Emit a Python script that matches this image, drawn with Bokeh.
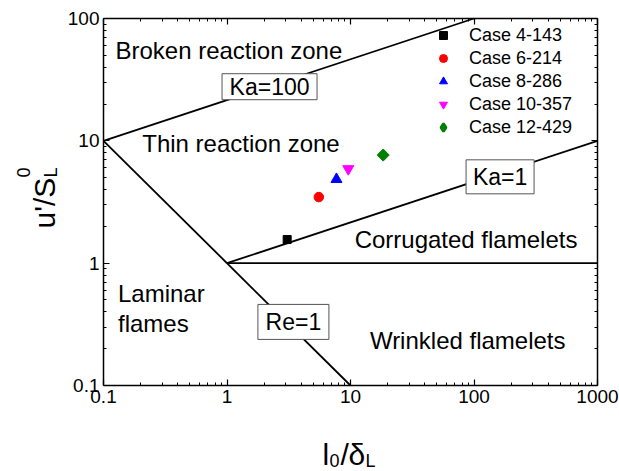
import math
from bokeh.plotting import figure
from bokeh.models import (LogAxis, FixedTicker, CustomJSTickFormatter, Legend,
                          LegendItem, Label, Range1d)
from bokeh.core.properties import value
from bokeh.embed import file_html
from bokeh.resources import INLINE

# ---------------- data ----------------
cases = ["Case 4-143", "Case 6-214", "Case 8-286", "Case 10-357", "Case 12-429"]
l_delta = [3.07, 5.54, 7.7, 9.6, 18.4]
u_sl = [1.56, 3.47, 4.85, 5.9, 7.65]
markers = ["square", "circle", "triangle", "inverted_triangle", "square"]
colors = ["#000000", "#ff0000", "#0000ff", "#ff00ff", "#008000"]

ka100_x = [0.1, 100]
ka100_y = [10, 100]
ka1_x = [1, 1000]
ka1_y = [1, 10]
re1_x = [0.1, 10]
re1_y = [10, 0.1]
flam_x = [1, 1000]
flam_y = [1, 1]

x_ticks = [0.1, 1, 10, 100, 1000]
y_ticks = [0.1, 1, 10, 100]

region_text = ["Broken reaction zone", "Thin reaction zone", "Corrugated flamelets",
               "Laminar", "flames"]
region_x = [0.125, 0.206, 10.8, 0.131, 0.131]
region_y = [54.8, 9.53, 1.55, 0.562, 0.323]

wrinkled_text = ["Wrinkled flamelets"]
wrinkled_x = [551]
wrinkled_y = [0.233]

box_text = ["Ka=100", "Ka=1", "Re=1"]
box_x = [2.21, 162.6, 3.45]
box_y = [27.7, 5.08, 0.331]

FONT = "Liberation Sans"

# ---------------- layout geometry (pixels) ----------------
W, H = 619, 471
BOX_L, BOX_R, BOX_T, BOX_B = 103, 597, 18, 385
xmin, xmax = x_ticks[0], x_ticks[-1]
ymin, ymax = y_ticks[0], y_ticks[-1]
pxd_x = (BOX_R - BOX_L) / (math.log10(xmax) - math.log10(xmin))
pxd_y = (BOX_B - BOX_T) / (math.log10(ymax) - math.log10(ymin))
x_lo = 10 ** (math.log10(xmin) - BOX_L / pxd_x)
x_hi = 10 ** (math.log10(xmax) + (W - BOX_R) / pxd_x)
y_lo = 10 ** (math.log10(ymin) - (H - BOX_B) / pxd_y)
y_hi = 10 ** (math.log10(ymax) + BOX_T / pxd_y)

p = figure(width=W, height=H, x_axis_type="log", y_axis_type="log",
           x_range=Range1d(x_lo, x_hi), y_range=Range1d(y_lo, y_hi),
           output_backend="svg", toolbar_location=None,
           min_border_left=0, min_border_right=0,
           min_border_top=0, min_border_bottom=0)
p.grid.visible = False
p.outline_line_color = None
p.background_fill_color = "white"
p.border_fill_color = "white"


def minors(majors):
    out = []
    for m in majors[:-1]:
        for k in range(2, 10):
            out.append(m * k)
    return out


fmt = CustomJSTickFormatter(code="return tick.toString();")
blank = CustomJSTickFormatter(code="return '';")


def style(ax, ticks, loc, labels=True):
    ax.fixed_location = loc
    ax.bounds = (ticks[0], ticks[-1])
    ax.ticker = FixedTicker(ticks=ticks, minor_ticks=minors(ticks))
    ax.major_tick_in = 6
    ax.major_tick_out = 0
    ax.minor_tick_in = 3
    ax.minor_tick_out = 0
    ax.axis_line_width = 1.5
    ax.major_tick_line_width = 1.2
    ax.minor_tick_line_width = 1.0
    ax.axis_line_color = "black"
    ax.major_tick_line_color = "black"
    ax.minor_tick_line_color = "black"
    if labels:
        ax.formatter = fmt
        ax.major_label_text_font = FONT
        ax.major_label_text_font_size = "19px"
        ax.major_label_text_color = "black"
        ax.major_label_standoff = 4
    else:
        ax.formatter = blank
        ax.major_label_text_font_size = "1px"
        ax.major_label_standoff = 0


style(p.xaxis[0], x_ticks, ymin)
style(p.yaxis[0], y_ticks, xmin)
top = LogAxis()
right = LogAxis()
style(top, x_ticks, ymax, labels=False)
style(right, y_ticks, xmax, labels=False)
p.add_layout(top, "above")
p.add_layout(right, "right")

# regime lines
for xs, ys in [(ka100_x, ka100_y), (ka1_x, ka1_y), (re1_x, re1_y), (flam_x, flam_y)]:
    p.line(xs, ys, line_color="black", line_width=1.8)

# boxed labels
p.rect(x=box_x, y=box_y, width=[95, 68, 71], height=[26, 34, 35],
       width_units="screen", height_units="screen",
       fill_color="white", line_color="#555555", line_width=1)
p.text(x=box_x, y=box_y, text=box_text, text_align="center", text_baseline="middle",
       text_font=value(FONT), text_font_size="23px", text_color="black")

# region labels
p.text(x=region_x, y=region_y, text=region_text, text_align="left",
       text_baseline="middle", text_font=value(FONT), text_font_size="24px",
       text_color="black")
p.text(x=wrinkled_x, y=wrinkled_y, text=wrinkled_text, text_align="right",
       text_baseline="middle", text_font=value(FONT), text_font_size="24px",
       text_color="black")

# case markers
sizes = [8, 9.5, 11, 11, 8.5]
angles = [0, 0, 0, 0, math.pi / 4]
items = []
last = len(cases) - 1
# diamond swatch for the legend (legend glyphs ignore rotation); it sits
# hidden beneath the rotated-square marker of the same case
r_leg = p.scatter([l_delta[last]], [u_sl[last]], marker="diamond", size=8,
                  fill_color=colors[last], line_color=colors[last], line_width=2.5)
for i in range(len(cases)):
    r = p.scatter([l_delta[i]], [u_sl[i]], marker=markers[i], size=sizes[i],
                  angle=angles[i], fill_color=colors[i], line_color=colors[i])
    items.append(LegendItem(label=cases[i], renderers=[r_leg if i == last else r]))

legend = Legend(items=items, location=(433, H - 138), border_line_alpha=0,
                background_fill_alpha=0, label_text_font=FONT,
                label_text_font_size="18px", label_text_color="black",
                glyph_width=20, glyph_height=22, label_height=22, spacing=1,
                padding=0, margin=0, label_standoff=16,
                label_text_baseline="middle")
p.add_layout(legend)


# axis titles built from pieces (screen coords, origin at bottom-left)
def lab(text, ax, ay, size, angle=0):
    p.add_layout(Label(x=ax, y=H - ay, x_units="screen", y_units="screen",
                       text=text, text_font=FONT, text_font_size=size,
                       text_color="black", angle=angle, text_baseline="alphabetic",
                       text_align="left"))


# x title: l0/δL
lab("l", 322, 454, "30px")
lab("0", 329, 460, "18px")
lab("/", 340, 454, "30px")
lab("δ", 348, 454, "30px")
lab("L", 365, 460, "18px")

# y title: u'/S with sub L and sup 0
A = math.pi / 2
lab("u'/S", 44, 228, "30px", A)
lab("0", 23, 177, "18px", A)
lab("L", 50, 177, "18px", A)

open("out.html", "w").write(file_html(p, INLINE))
